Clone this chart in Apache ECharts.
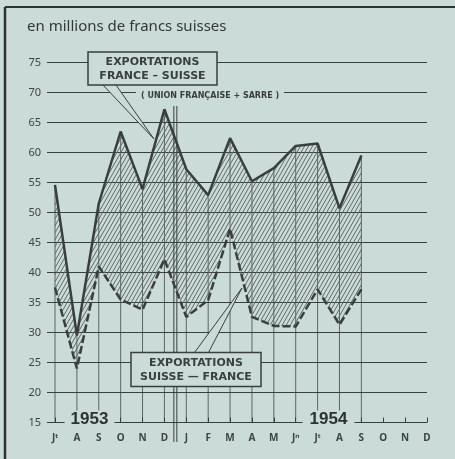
<!DOCTYPE html>
<html>
<head>
<meta charset="utf-8">
<script src="https://cdn.jsdelivr.net/npm/echarts@6/dist/echarts.min.js"></script>
<style>
html, body { margin: 0; padding: 0; background: #cbdbd8; }
#chart { width: 455px; height: 459px; }
</style>
</head>
<body>
<div id="chart"></div>
<script>
// juillet 1953 -> decembre 1954
var months = ['J\u1d57', 'A', 'S', 'O', 'N', 'D', 'J', 'F', 'M', 'A', 'M', 'J\u207f', 'J\u1d57', 'A', 'S', 'O', 'N', 'D']
var franceSuisse = [54.6, 29.5, 51.5, 63.5, 53.9, 67.2, 57.2, 52.9, 62.4, 55.2, 57.4, 61.1, 61.5, 50.7, 59.5]
var suisseFrance = [37.5, 24.0, 41.0, 35.5, 33.8, 42.2, 32.6, 35.4, 47.3, 32.6, 31.1, 31.0, 37.2, 31.3, 37.2]
var yMin = 15
var yMax = 75
var yStep = 5

var ink = '#3a3f3e'
var bg = '#cbdbd8'
var font = 'Noto Sans'

function hatch() {
  var c = document.createElement('canvas')
  c.width = 4
  c.height = 7
  var ctx = c.getContext('2d')
  ctx.strokeStyle = '#5f6866'
  ctx.lineWidth = 1
  ctx.beginPath()
  for (var k = 0; k <= 2; k++) {
    ctx.moveTo(4 * k, 0)
    ctx.lineTo(4 * k - 4, 7)
  }
  ctx.stroke()
  return c
}

var ecart = franceSuisse.map(function(v, i) { return +(v - suisseFrance[i]).toFixed(2) })

var chart = echarts.init(document.getElementById('chart'))

chart.setOption({
  backgroundColor: bg,
  animation: false,
  grid: {
    left: 55,
    right: 28,
    top: 62.5,
    bottom: 36.5
  },
  xAxis: {
    type: 'category',
    data: months,
    boundaryGap: false,
    axisLine: { show: false },
    axisTick: { show: true, inside: true, length: 5, lineStyle: { color: ink } },
    axisLabel: { color: '#3e4443', fontSize: 10, margin: 11, fontFamily: font, fontWeight: 'bold' },
    splitLine: { show: false }
  },
  yAxis: {
    type: 'value',
    min: yMin,
    max: yMax,
    interval: yStep,
    axisLine: { show: false },
    axisTick: { show: true, length: 8, lineStyle: { color: ink, width: 1 } },
    axisLabel: { color: '#3e4443', fontSize: 11, margin: 14, fontFamily: font },
    splitLine: { lineStyle: { color: ink, width: 1 } }
  },
  series: [
    {
      name: 'repere',
      type: 'bar',
      data: franceSuisse,
      barWidth: 1,
      silent: true,
      itemStyle: { color: 'rgba(58,63,62,0.75)' },
      z: 1
    },
    {
      name: 'Suisse - France',
      type: 'line',
      stack: 'ex',
      data: suisseFrance,
      symbol: 'none',
      lineStyle: { color: ink, width: 2.5, type: [8, 3] },
      z: 4
    },
    {
      name: 'France - Suisse',
      type: 'line',
      stack: 'ex',
      data: ecart,
      symbol: 'none',
      lineStyle: { color: ink, width: 2.5 },
      areaStyle: { color: { image: hatch(), repeat: 'repeat' }, opacity: 1 },
      z: 3
    }
  ]
})

var sepX = (chart.convertToPixel({ xAxisIndex: 0 }, 5) + chart.convertToPixel({ xAxisIndex: 0 }, 6)) / 2

function box(x, y, w, h, l1, l2) {
  return [
    { type: 'rect', shape: { x: x, y: y, width: w, height: h }, style: { fill: bg, stroke: ink, lineWidth: 1.5 }, z: 20 },
    { type: 'text', x: x + w / 2, y: y + h * 0.3, style: { text: l1, fill: ink, font: 'bold 11px "DejaVu Sans"', align: 'center', verticalAlign: 'middle' }, z: 21 },
    { type: 'text', x: x + w / 2, y: y + h * 0.72, style: { text: l2, fill: ink, font: 'bold 11px "DejaVu Sans"', align: 'center', verticalAlign: 'middle' }, z: 21 }
  ]
}

function pointer(a, b, tip) {
  return [
    { type: 'polygon', shape: { points: [a, b, tip] }, style: { fill: bg, stroke: null }, z: 19 },
    { type: 'polyline', shape: { points: [a, tip, b] }, style: { stroke: ink, lineWidth: 1, fill: null }, z: 19 }
  ]
}

var g = [
  { type: 'line', shape: { x1: 5, y1: 7, x2: 455, y2: 7 }, style: { stroke: '#2e3231', lineWidth: 2 }, z: 30 },
  { type: 'line', shape: { x1: 5, y1: 7, x2: 5, y2: 459 }, style: { stroke: '#2e3231', lineWidth: 2.5 }, z: 30 },
  { type: 'text', x: 27, y: 27, style: { text: 'en millions de francs suisses', fill: '#333837', font: '15px "Noto Sans"', verticalAlign: 'middle' }, z: 20 },
  { type: 'line', shape: { x1: sepX - 1.5, y1: 106, x2: sepX - 1.5, y2: 442 }, style: { stroke: ink, lineWidth: 1 }, z: 10 },
  { type: 'line', shape: { x1: sepX + 1.5, y1: 106, x2: sepX + 1.5, y2: 442 }, style: { stroke: ink, lineWidth: 1 }, z: 10 },
  { type: 'text', x: 210, y: 95.5, style: { text: '( UNION FRANÇAISE + SARRE )', fill: ink, font: 'bold 8px "DejaVu Sans"', align: 'center', verticalAlign: 'middle', backgroundColor: bg, padding: [2, 5] }, z: 20 },
  { type: 'text', x: 89.5, y: 419, style: { text: '1953', fill: '#2e3231', font: 'bold 17px "Liberation Sans"', align: 'center', verticalAlign: 'middle', backgroundColor: bg, padding: [0, 6] }, z: 20 },
  { type: 'text', x: 328.5, y: 419, style: { text: '1954', fill: '#2e3231', font: 'bold 17px "Liberation Sans"', align: 'center', verticalAlign: 'middle', backgroundColor: bg, padding: [0, 7] }, z: 20 }
]
g = g.concat(pointer([103, 85], [116, 85], [154, 139]))
g = g.concat(box(88, 52, 129, 33, 'EXPORTATIONS', 'FRANCE \u2013 SUISSE'))
g = g.concat(pointer([194.5, 352.5], [208.5, 352.5], [242, 288]))
g = g.concat(box(131, 352.5, 130, 34, 'EXPORTATIONS', 'SUISSE \u2014 FRANCE'))

chart.setOption({ graphic: g })
</script>
</body>
</html>
